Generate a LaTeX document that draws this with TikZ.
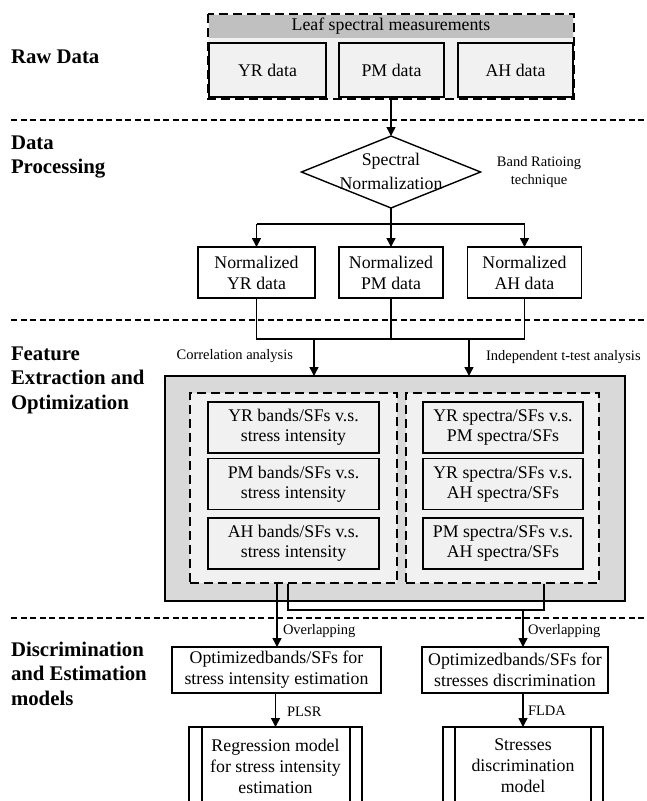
\documentclass[tikz,border=0pt]{standalone}
\usepackage{fontspec}
\setmainfont{Liberation Serif}
\usetikzlibrary{arrows.meta,shapes.geometric}
\definecolor{hdrgray}{RGB}{192,192,192}
\definecolor{boxgray}{RGB}{240,241,240}
\definecolor{panelgray}{RGB}{216,217,216}
\begin{document}
\begin{tikzpicture}[x=1pt,y=-1pt,
  every node/.style={inner sep=0pt, outer sep=0pt},
  line/.style={line width=1.5pt},
  arr/.style={line width=1.5pt,-{Triangle[length=9pt,width=9pt]}},
  box/.style={draw, line width=1.4pt, align=center, font=\fontsize{17.8}{21}\selectfont},
  lightbox/.style={box, fill=boxgray},
  innerbox/.style={lightbox, minimum height=51pt, font=\fontsize{17.8}{20}\selectfont},
  secline/.style={line width=1.4pt, dash pattern=on 6pt off 3.5pt},
  grpdash/.style={line width=1.4pt, dash pattern=on 9pt off 5pt},
  stage/.style={anchor=west, align=left, font=\fontsize{20.8}{24.5}\selectfont\bfseries},
  note/.style={font=\fontsize{14.5}{18}\selectfont, align=center},
]
\useasboundingbox (0,0) rectangle (647,801);

% stage labels
\node[stage] (lraw) at (11,57) {Raw Data};
\node[stage] (lproc) at (11,157) {Data\\Processing};
\node[stage] (lfeat) at (11,380) {Feature\\Extraction and\\Optimization};
\node[stage] (ldisc) at (11,673.5) {Discrimination\\and Estimation\\models};

% section separators
\coordinate (s1a) at (11,120); \coordinate (s1b) at (647,120);
\coordinate (s2a) at (11,320); \coordinate (s2b) at (647,320);
\coordinate (s3a) at (11,618); \coordinate (s3b) at (647,618);
\draw[secline] (s1a) -- (s1b);
\draw[secline] (s2a) -- (s2b);
\draw[secline] (s3a) -- (s3b);

% raw data group
\node[fill=boxgray, minimum width=366pt, minimum height=85pt] (raw) at (391,56.5) {};
\node[fill=hdrgray, minimum width=364pt, minimum height=23pt, font=\fontsize{17.8}{21}\selectfont] (hdr) at (391,26.5) {Leaf spectral measurements};
\draw[grpdash] (raw.north west) rectangle (raw.south east);
\node[lightbox, minimum width=117pt, minimum height=54pt] (yr) at (267.5,70) {YR data};
\node[lightbox, minimum width=105pt, minimum height=54pt] (pm) at (391.5,70) {PM data};
\node[lightbox, minimum width=115pt, minimum height=54pt] (ah) at (515.5,70) {AH data};

% normalization
\node[diamond, draw, line width=1.4pt, minimum width=179pt, minimum height=72pt] (norm) at (391,172) {};
\node[align=center, font=\fontsize{17.8}{24}\selectfont] (normtxt) at (391,171) {Spectral\\Normalization};
\node[note] (band) at (539,172) {Band Ratioing\\technique};
\draw[arr] (raw.south) -- (norm.north);

\node[box, minimum width=117pt, minimum height=51pt] (nyr) at (256.5,272.5) {Normalized\\YR data};
\node[box, minimum width=104pt, minimum height=51pt] (npm) at (391,272.5) {Normalized\\PM data};
\node[box, minimum width=114pt, minimum height=51pt] (nah) at (524.5,272.5) {Normalized\\AH data};

\coordinate (br) at (391,224);
\draw[line] (norm.south) -- (br);
\draw[line] (nyr.north |- br) -- (nah.north |- br);
\draw[arr] (nyr.north |- br) -- (nyr.north);
\draw[arr] (br) -- (npm.north);
\draw[arr] (nah.north |- br) -- (nah.north);

% feature extraction panel
\node[draw, line width=1.4pt, fill=panelgray, minimum width=460pt, minimum height=225pt] (feat) at (395,488.5) {};
\node[draw, grpdash, fill=boxgray, minimum width=207pt, minimum height=190pt] (lg) at (293.5,488) {};
\node[draw, grpdash, fill=boxgray, minimum width=193pt, minimum height=190pt] (rg) at (502.5,488) {};

\node[innerbox, minimum width=171pt] (b1) at (293.5,427.5) {YR bands/SFs v.s.\\stress intensity};
\node[innerbox, minimum width=171pt] (b2) at (293.5,484) {PM bands/SFs v.s.\\stress intensity};
\node[innerbox, minimum width=171pt] (b3) at (293.5,543.5) {AH bands/SFs v.s.\\stress intensity};
\node[innerbox, minimum width=160pt] (c1) at (503,427.5) {YR spectra/SFs v.s.\\PM spectra/SFs};
\node[innerbox, minimum width=160pt] (c2) at (503,484) {YR spectra/SFs v.s.\\AH spectra/SFs};
\node[innerbox, minimum width=160pt] (c3) at (503,543.5) {PM spectra/SFs v.s.\\AH spectra/SFs};

\coordinate (jn) at (391,339);
\draw[line] (nyr.south) -- (nyr.south |- jn) -- (nah.south |- jn) -- (nah.south);
\draw[line] (npm.south) -- (jn);
\coordinate (ca) at (314,339);
\coordinate (ia) at (469,339);
\draw[arr] (ca) -- (ca |- feat.north);
\draw[arr] (ia) -- (ia |- feat.north);
\node[note, anchor=east] (corr) at (293,356) {Correlation analysis};
\node[note, anchor=west] (indep) at (486,357) {Independent t-test analysis};

% discrimination and estimation
\node[box, minimum width=209pt, minimum height=46pt] (oe) at (276.5,670) {Optimizedbands/SFs for\\stress intensity estimation};
\node[box, minimum width=186pt, minimum height=46pt] (od) at (515,670) {Optimizedbands/SFs for\\stresses discrimination};

\coordinate (la) at (277,583.6);
\coordinate (lb) at (288,583.6);
\coordinate (rb) at (544,583.6);
\coordinate (jr) at (523,610);
\draw[line] (lb) -- (lb |- jr) -- (rb |- jr) -- (rb);
\draw[arr] (la) -- (la |- oe.north);
\draw[arr] (jr) -- (jr |- od.north);
\node[note, anchor=west] (ov1) at (283,631) {Overlapping};
\node[note, anchor=west] (ov2) at (528,631) {Overlapping};

\node[box, minimum width=173pt, minimum height=78pt] (rm) at (275.5,766) {Regression model\\for stress intensity\\estimation};
\node[box, minimum width=160pt, minimum height=78pt] (sm) at (523,766) {Stresses\\discrimination\\model};
\draw[line] ([xshift=13pt]rm.north west) -- ([xshift=13pt]rm.south west);
\draw[line] ([xshift=-12pt]rm.north east) -- ([xshift=-12pt]rm.south east);
\draw[line] ([xshift=12pt]sm.north west) -- ([xshift=12pt]sm.south west);
\draw[line] ([xshift=-12pt]sm.north east) -- ([xshift=-12pt]sm.south east);

\draw[arr] (oe.south -| rm.north) -- (rm.north);
\draw[arr] (od.south -| sm.north) -- (sm.north);
\node[note, anchor=west] (plsr) at (287,712) {PLSR};
\node[note, anchor=west] (flda) at (528,711) {FLDA};
\end{tikzpicture}
\end{document}
